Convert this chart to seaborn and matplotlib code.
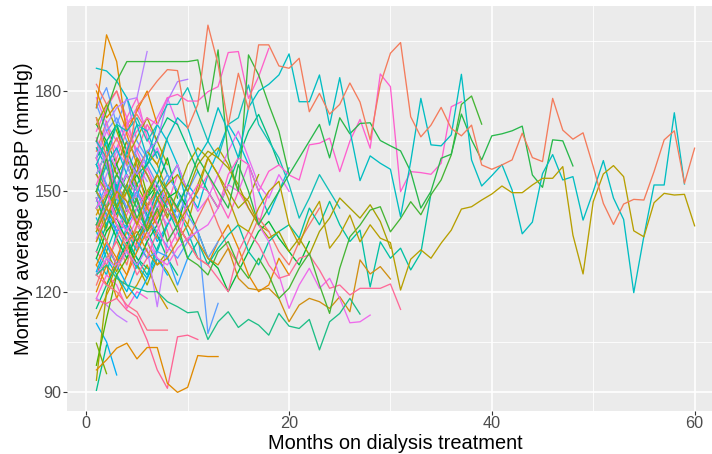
import matplotlib
matplotlib.use("Agg")
import matplotlib.pyplot as plt
import pandas as pd
import seaborn as sns

# ---------------- data: monthly SBP per patient (month 1, 2, ...) ----------------
pt_A = [172,160,166,158,175.3,179,183,186.4,186.1,168.8, 176,199.7,188,169.8,185.3,174.5,193.8,193.8,187.5,186.8,
        189.8,173.8,179.3,173.1,176,182.4,176.7,165.4,182,191.3, 194.5,172.3,166.3,169.8,175.1,168.8,166.6,169.8,157.9,156.6,
        157.9,159.4,167.4,160.1,158.9,177.8,168.3,165.6,167.5,157.4, 146.4,140.1,146.2,147.6,147.4,155.9,165.4,168.1,152.4,162.9]
pt_B = [135,142,150,147,140,150,155,148,140,145, 150,160,155,148,140,138,145,150,153,140,
        134,142,147,133,137,142.9,134.9,140,136,134.7, 120.5,129.7,132.5,130,134.5,138.4,144.7,145.4,147.4,149.2,
        151.6,149.6,149.6,151.9,153.9,153.9,157.4,136.9,125.3,146.9, 155.2,157.7,154.4,138.2,136.4,146.6,149.4,148.9,149.1,139.7]
pt_C = [158,165,150,162,170,160,155,166,172,169, 160,165,175,168,160,175,180,182,184.8,191.1,
        176.8,176.8,184.8,169.8,184,168.3,153.2,160.6,158.4,156.6, 142.4,158.9,177.8,163.9,163.6,166.9,185,159.4,151.6,154.7,
        158,150.4,137.3,140.8,155.3,161,153.4,154.4,141.4,149.9, 159.2,148,141.6,119.7,136.6,151.9,151.9,173.5,152.2]
pt_E = [140,148,155,150,142,148,155,150,145,152, 160,155,150,145,158,150,140,145,150,155,
        160,165,170,160,172,167.2,170.3,170.5,165.2,163.6, 162.1,155.9,145,150,159.9,161.1,173.1,165.4,159.4,166.6,
        167.2,168.1,169.5,154.9,151.2,165.4,165.1,157.6]
pt_D = [150,160,145,140,148,138,145,135,140,130, 128,125,132,135,128,124,130,125,118,121,
        127,131.5,122,113.5,127,136.4,139.9,144.4,145.4,137.9, 141.9,146.9,143,149,153.4,160.9,176,178.5,170.1]
pt_PKL = [160,150,142,138,145,150,140,132,138,147, 152,150,145,155,160,158,150,156,157.9,154.9,
          153.4,163.9,164.4,165.9,155.9,165,171.5,162.9,185.1,181.3, 149.9,155.9,155.6,155.1,158.4,175.3,176.8]
pt_G1 = [165,174,183,188.8,188.8,188.8,188.8,188.8,188.8,188.8, 189.3,173.8,192.3,160,150,190.8,184.8,176,168,155]
pt_P1 = [152,160,148,163,168,172,170,178,179,177, 177,179.8,181.3,191.5,191.8,177.8,184.3,192.7]
pt_O1 = [96.6,99.6,103.1,104.6,99.9,103.3,103.3,92.6,89.9,91.4,100.9,100.6,100.6]
pt_PL1 = [117.5,116.5,118,114.5,112.5,105.5,96.6,91.1,106.5,107,105.7]
pt_PL2 = [125,122,120,116,114,108.5,108.5,108.5]
pt_T1 = [125,128,124,122,121,120,120,117,115.5,113.7, 114,105.7,111,114,109.3,111.7,110,107,113.5,109.7,
         109,111.7,102.6,111,113.5,118,113.3]
pt_PR1 = [140,135,128,133,125,130,138,145,140,135, 130,128,124,120,132,138,134,128,124,125,
          130,131,126.5,121,122,119,121,121,121,122.3,114.7]
pt_PK2 = [145,150,140,135,142,138,130,128,133,136, 138,140,145,152,150,158,140,135,125,115,
          122,127,121,124,118,110.7,111,113]
pt_OR2 = [150,145,140,135,138,132,128,130,135,140, 135,130,128,133,124,121,120.5,121,118,111,
          116,118,117,115,118.5,114,129.5,125.3,127.5,123.8]
pt_OL2 = [138,145,150,142,135,140,148,152,155,150, 158,162,160,157,152,145,140,136,138,132,
          136,131,138,142,148,145,142,146,141,133]
pt_T2 = [150,145,152,140,135,142,150,145,138,130, 135,128,133,137,140,132,128,135,138,140,
         136,145,140,147,140,135,138.4,121.4,134.9,130, 133,126.5,131.6,149.4]
pt_T5 = [165,160,170,168,172,165,170,176,176,181, 173,165,160,170,172,181.8,170,165,160,152, 142,148,155,150,145]
pt_B1 = [140,148,152,145,150,142,138,133.5,130,135,138.4,107.5,116.5]
pt_BL2 = [150,143,138,140,135,130,132,130.5,122,130]
pt_PU1 = [160,170,175,177.3,178,191.8]
pt_PU2 = [165,158,150,160,155,162,165,177,182.8,183.5]
pt_PU3 = [118,116,113,111]
pt_PU4 = [125,130,127,132,128,133,115.5,135,140]
pt_OR1 = [175,196.8,188.8,167,158,145,140]
pt_TT = [186.8,186,183,178,170,168,160]
pt_CYL = [110.5,105,95.1]
pt_TGL = [90.5,104]
pt_GL1 = [104.6,95.5]
pt_OLL = [93.5,120,128]
pt_GL2 = [98,112,125,130]

md_01 = [150,158,163,155,148,160,170,165,158,150,145,155,162,170,165,158,150,143,150,157]
md_02 = [140,135,145,150,156,162,158,150,145,140,152,160,163,158,150,147,140,138]
md_03 = [130,138,142,135,128,135,140,148,150,145,138,130,127,120,126,132,138,141,136,132,128,135]
md_04 = [165,160,152,145,150,157,150,142,135,145,150,155,148,142,150,145,140,150]
md_05 = [128,135,130,125,132,138,142,148,140,135,130,128,135,140,133,125,120,122,130,125]
md_06 = [145,152,148,140,135,142,150,155,150,143,138,130,135]
md_07 = [160,165,170,162,155,158,166,172,170,163,156,150,145,152,160,168,173,166,158]
md_08 = [148,142,150,155,148,140,145,152,158,150,144,148,155,162,168,160,152,148,155,150]
md_09 = [138,145,140,133,140,146,150,145,140,135,142,148,140,133,128,135,142,138,132,128,135,140,145]
md_10 = [155,150,145,152,160,155,148,142,150,158,163,160,155,150,145,148,155]

sh_01 = [162,171,158,165,150]
sh_02 = [148,139,152,144,160,149,155]
sh_03 = [130,125,138,132,127,135]
sh_04 = [178,170,165,172,160,158,163,155]
sh_05 = [120,128,118,125,135,130]
sh_06 = [155,162,170,158,150,145,152,160,148]
sh_07 = [142,135,128,140,145,138]
sh_08 = [168,175,180,172,178,166,160]
sh_09 = [112,119,125,118,122,128,120,115]
sh_10 = [158,150,143,152,147,138,145,150,140,135]
sh_11 = [175,181,170,178,165,160]
sh_12 = [135,145,150,140,133,142,148,138,128]
sh_13 = [150,158,145,152,140,135,128,132]
sh_14 = [125,132,140,136,130,125,133,140,145,138,130]
sh_15 = [165,158,152,160,155,148,145,140]
sh_16 = [182,176,180,170,173,168]
sh_17 = [145,150,158,165,160,155,150]
sh_18 = [138,130,125,120,128,124,132]
sh_19 = [160,168,162,170,175,168,172,178,170]
sh_20 = [128,122,130,138,135,142,136]
sh_21 = [170,165,158,150,155,148,152,145,140,150]
sh_22 = [152,145,138,145,150,142,135,140,146,152,148]
sh_23 = [118,125,122,115,120,118]
sh_24 = [145,138,142,150,156,162,158,166]
sh_25 = [132,140,148,155,150,143,137,130,125]
sh_26 = [176,168,172,165,160,155]
sh_27 = [155,148,160,168,162,170,165]
sh_28 = [140,132,126,134,128,122,130,126,120]
sh_29 = [163,157,150,145,152,158,162,155,150,145]
sh_30 = [147,155,162,158,150,144,140,148]
sh_31 = [122,130,135,128,140,145,150]
sh_32 = [172,163,155,160,152,146,150,143]
sh_33 = [158,152,145,138,132,140,147,153,158,145]
sh_34 = [136,142,138,145,140,135,130]
sh_35 = [180,172,176,168,174,180,170]
sh_36 = [150,143,136,130,137,142]
sh_37 = [126,134,128,122,118,124,130,125]
sh_38 = [166,158,163,170,162,155,150,146,155]
sh_39 = [143,149,155,150,145,139,144]
sh_40 = [115,122,128,135,130,127]
sh_41 = [160,152,148,156,163,158,152,147,142,150,156]
sh_42 = [132,128,136,143,150,146,140]
sh_43 = [170,176,168,160,166,172,165,158]
sh_44 = [148,140,146,152,145,138,132,140]
sh_45 = [155,162,157,150,158,153]
sh_46 = [139,146,152,147,141,136,143,150,144]

short_series = [sh_01, sh_02, sh_03, sh_04, sh_05, sh_06, sh_07, sh_08, sh_09, sh_10,
                sh_11, sh_12, sh_13, sh_14, sh_15, sh_16, sh_17, sh_18, sh_19, sh_20,
                sh_21, sh_22, sh_23, sh_24, sh_25, sh_26, sh_27, sh_28, sh_29, sh_30,
                sh_31, sh_32, sh_33, sh_34, sh_35, sh_36, sh_37, sh_38, sh_39, sh_40,
                sh_41, sh_42, sh_43, sh_44, sh_45, sh_46]

medium_series = [md_01, md_02, md_03, md_04, md_05, md_06, md_07, md_08, md_09, md_10]

named_series = [pt_TT, pt_OR1, pt_PU1, pt_PU2, pt_PU3, pt_PU4, pt_CYL, pt_TGL, pt_GL1, pt_OLL, pt_GL2,
                pt_BL2, pt_B1, pt_T5, pt_T2, pt_OL2, pt_OR2, pt_PK2, pt_PR1, pt_T1, pt_PL2, pt_PL1,
                pt_O1, pt_P1, pt_G1, pt_PKL, pt_D, pt_E, pt_C, pt_B, pt_A]

# ---------------- styles ----------------
hue_cycle = ["#F8766D", "#E58700", "#C99800", "#A3A500", "#6BB100", "#00BA38", "#00BF7D",
             "#00C0AF", "#00BCD8", "#00B0F6", "#619CFF", "#B983FF", "#E76BF3", "#FD61D1", "#FF67A4"]
medium_colors = ["#00BCD8", "#B79F00", "#00BA38", "#FF61C3", "#E58700", "#619CFF", "#00BF7D",
                 "#E76BF3", "#F8766D", "#A3A500"]
named_colors = ["#00BFC4", "#E28A00", "#B983FF", "#B07CFF", "#C77CFF", "#C77CFF", "#00B0F6", "#00C08B",
                "#7CAE00", "#A3A500", "#53B400", "#35A2FF", "#5A9EFF", "#12BFB8", "#00C1A3", "#A8A000",
                "#D08F12", "#EE6AEC", "#FF6A98", "#1DBE86", "#FC6F86", "#FF6494", "#E08A00", "#FF61C9",
                "#39B73C", "#FF5FCF", "#45B534", "#28B84B", "#00BDC2", "#B79F00", "#F47B5B"]

rows = []
colors = {}
pid = 0
groups = ([(v, hue_cycle[(k * 4) % len(hue_cycle)]) for k, v in enumerate(short_series)]
          + list(zip(medium_series, medium_colors))
          + list(zip(named_series, named_colors)))
for vals, col in groups:
    key = f"s{pid}"
    for m, v in enumerate(vals, start=1):
        rows.append((key, m, v))
    colors[key] = col
    pid += 1
df = pd.DataFrame(rows, columns=["pid", "month", "sbp"])

# ---------------- figure ----------------
plt.rcParams["font.family"] = ["Liberation Sans", "DejaVu Sans"]
fig = plt.figure(figsize=(7.12, 4.54), dpi=100)
W, H = 712, 454
ax = fig.add_axes([66.5 / W, (H - 411) / H, 658 / W, 405 / H])
ax.set_facecolor("#EBEBEB")
for s in ax.spines.values():
    s.set_visible(False)

ax.set_xlim(-1.95, 62.95)
ax.set_ylim(84.32, 205.42)
ax.set_xticks([0, 20, 40, 60])
ax.set_xticks([10, 30, 50], minor=True)
ax.set_yticks([90, 120, 150, 180])
ax.set_yticks([105, 135, 165, 195], minor=True)
ax.grid(which="major", color="white", linewidth=1.2)
ax.grid(which="minor", color="white", linewidth=0.6)
ax.set_axisbelow(True)

sns.lineplot(data=df, x="month", y="sbp", hue="pid", palette=colors, hue_order=list(colors.keys()),
             estimator=None, legend=False, linewidth=0.95, ax=ax)

ax.tick_params(which="major", length=2.6, width=0.8, color="#333333", labelsize=11.7,
               labelcolor="#4D4D4D")
ax.tick_params(axis="x", pad=1.2)
ax.tick_params(axis="y", pad=1.0)
ax.tick_params(which="minor", length=0)

ax.set_xlabel("Months on dialysis treatment", fontsize=14.4, color="black")
ax.set_ylabel("Monthly average of SBP (mmHg)", fontsize=14.4, color="black")
ax.xaxis.set_label_coords(0.5, -0.056)
ax.yaxis.set_label_coords(-0.0505, 0.5)

fig.savefig("out.png", dpi=100, facecolor="white")
